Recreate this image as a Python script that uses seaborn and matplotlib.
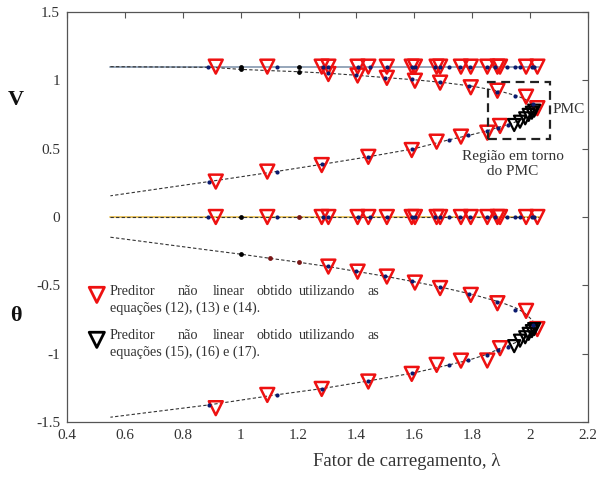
import numpy as np
import pandas as pd
import seaborn as sns
import matplotlib.pyplot as plt
from matplotlib.patches import Rectangle

# --- load-bus voltage curve (upper branch to nose, then lower branch) ---
curve_lam = [0.55, 0.90, 1.00, 1.10, 1.20, 1.30, 1.40, 1.50, 1.60, 1.70, 1.80, 1.90,
             1.95, 1.98, 2.00, 2.015, 2.02, 2.012, 1.995, 1.97, 1.94, 1.90, 1.85,
             1.79, 1.72, 1.60, 1.44, 1.28, 1.12, 0.89, 0.55]
curve_V = [1.100, 1.095, 1.080, 1.071, 1.063, 1.052, 1.037, 1.020, 1.004, 0.984,
           0.957, 0.918, 0.889, 0.865, 0.840, 0.815, 0.790, 0.765, 0.740, 0.712,
           0.688, 0.662, 0.630, 0.598, 0.565, 0.500, 0.440, 0.385, 0.332, 0.259, 0.155]
curve_th = [-0.148, -0.245, -0.272, -0.302, -0.331, -0.362, -0.398, -0.434, -0.474,
            -0.517, -0.566, -0.625, -0.665, -0.700, -0.740, -0.775, -0.805, -0.840,
            -0.870, -0.900, -0.928, -0.958, -1.005, -1.046, -1.082, -1.140, -1.200,
            -1.256, -1.302, -1.375, -1.465]

# --- generator bus (constant magnitude, reference angle) ---
gen_lam = [0.55, 2.03]
gen_V = [1.1, 1.1]
gen_th = [0.0, 0.0]

# --- nonlinear predictor, eqs (12)-(14) ---
pred_up_lam = [1.303, 1.404, 1.505, 1.602, 1.689, 1.795, 1.887, 1.986, 2.025]
pred_up_V = [1.046, 1.035, 1.018, 0.997, 0.983, 0.949, 0.924, 0.880, 0.796]
pred_up_th = [-0.363, -0.400, -0.436, -0.480, -0.520, -0.570, -0.631, -0.687, -0.820]
pred_lo_lam = [1.896, 1.852, 1.761, 1.677, 1.591, 1.441, 1.280, 1.092, 0.914]
pred_lo_V = [0.666, 0.617, 0.588, 0.551, 0.490, 0.440, 0.380, 0.332, 0.259]
pred_lo_th = [-0.960, -1.050, -1.051, -1.082, -1.148, -1.204, -1.258, -1.302, -1.399]

# --- nonlinear predictor, eqs (15)-(17) ---
pred2_lam = [1.945, 1.965, 1.983, 1.995, 2.006, 2.014]
pred2_V = [0.673, 0.697, 0.722, 0.747, 0.763, 0.778]
pred2_th = [-0.945, -0.905, -0.880, -0.855, -0.835, -0.820]

# --- corrected points ---
corr_up_lam = [1.300, 1.400, 1.500, 1.593, 1.689, 1.789, 1.885, 1.948, 2.010]
corr_up_V = [1.052, 1.037, 1.020, 1.008, 0.986, 0.959, 0.917, 0.888, 0.830]
corr_up_th = [-0.355, -0.393, -0.430, -0.472, -0.515, -0.565, -0.625, -0.680, -0.790]
corr_lo_lam = [1.925, 1.890, 1.850, 1.787, 1.721, 1.591, 1.441, 1.280, 1.125, 0.890]
corr_lo_V = [0.673, 0.652, 0.630, 0.598, 0.565, 0.495, 0.440, 0.385, 0.332, 0.259]
corr_lo_th = [-0.953, -0.975, -1.009, -1.046, -1.082, -1.140, -1.200, -1.256, -1.302, -1.375]
gen_corr_lam = [0.888, 1.125, 1.283, 1.303, 1.404, 1.447, 1.505, 1.591, 1.602, 1.672,
                1.689, 1.721, 1.758, 1.793, 1.850, 1.879, 1.919, 1.948, 1.965, 2.005, 2.012]

# --- initial continuation steps ---
init_lam = [1.0, 1.1, 1.2]
init_V = [1.080, 1.071, 1.063]
init_th = [-0.272, -0.302, -0.331]

xticks = [0.4, 0.6, 0.8, 1.0, 1.2, 1.4, 1.6, 1.8, 2.0, 2.2]
xticklabels = ["0.4", "0.6", "0.8", "1", "1.2", "1.4", "1.6", "1.8", "2", "2.2"]
yticks = [-1.5, -1.0, -0.5, 0.0, 0.5, 1.0, 1.5]
yticklabels = ["-1.5", "-1", "-0.5", "0", "0.5", "1", "1.5"]

sns.set_theme(style="white")
plt.rcParams["font.family"] = ["Liberation Serif", "DejaVu Serif"]

fig = plt.figure(figsize=(5.96, 4.83), dpi=100)
ax = fig.add_axes([0.1124, 0.1263, 0.8742, 0.8489])

RED = "#ee1111"
NAVY = "#0a1a6e"
DASH = "#333333"

# generator bus lines
sns.lineplot(x=gen_lam, y=gen_V, ax=ax, color="#8e9fb4", lw=1.3, sort=False, estimator=None)
sns.lineplot(x=gen_lam, y=gen_th, ax=ax, color="#e9c35a", lw=1.3, sort=False, estimator=None)
sns.lineplot(x=gen_lam, y=gen_th, ax=ax, color=DASH, lw=0.8, sort=False, estimator=None,
             dashes=False, linestyle=(0, (3, 2)))

# load bus curves
curves = pd.DataFrame({"lam": curve_lam, "V": curve_V, "th": curve_th})
sns.lineplot(data=curves, x="lam", y="V", ax=ax, color=DASH, lw=0.8, sort=False,
             estimator=None, linestyle=(0, (3, 2)))
sns.lineplot(data=curves, x="lam", y="th", ax=ax, color=DASH, lw=0.8, sort=False,
             estimator=None, linestyle=(0, (3, 2)))


def tri(xs, ys, color, size=100, lw=1.8):
    sns.scatterplot(x=xs, y=ys, ax=ax, marker="v", s=size, facecolor="none",
                    edgecolor=color, linewidth=lw, zorder=4, legend=False)


def dots(xs, ys, color, size=9):
    sns.scatterplot(x=xs, y=ys, ax=ax, marker="o", s=size, color=color,
                    edgecolor=color, linewidth=0, zorder=5, legend=False)


gen_pred_lam = pred_up_lam + pred_lo_lam
tri(gen_pred_lam, [gen_V[0]] * len(gen_pred_lam), RED)
tri(gen_pred_lam, [gen_th[0]] * len(gen_pred_lam), RED)
tri(pred_up_lam, pred_up_V, RED)
tri(pred_lo_lam, pred_lo_V, RED)
tri(pred_up_lam, pred_up_th, RED)
tri(pred_lo_lam, pred_lo_th, RED)
tri(pred2_lam, pred2_V, "black", size=75, lw=1.6)
tri(pred2_lam, pred2_th, "black", size=75, lw=1.6)

dots(gen_corr_lam, [gen_V[0]] * len(gen_corr_lam), NAVY)
dots(gen_corr_lam, [gen_th[0]] * len(gen_corr_lam), NAVY)
dots(corr_up_lam, corr_up_V, NAVY)
dots(corr_lo_lam, corr_lo_V, NAVY)
dots(corr_up_lam, corr_up_th, NAVY)
dots(corr_lo_lam, corr_lo_th, NAVY)

dots(init_lam[::2], init_V[::2], "black", 12)
dots(init_lam[::2], [gen_V[0]] * 2, "black", 12)
dots(init_lam[:1], [gen_th[0]], "black", 12)
dots(init_lam[2:], [gen_th[0]], "#7a1515", 12)
dots(init_lam[:1], init_th[:1], "black", 12)
dots(init_lam[1:], init_th[1:], "#7a1515", 12)

# region around the maximum loading point
ax.add_patch(Rectangle((1.854, 0.569), 0.213, 0.421, fill=False, ec="#222222",
                       lw=1.6, ls=(0, (4, 2.5)), zorder=6))
ax.text(2.079, 0.783, "PMC", fontsize=11, color="#333333", va="center", ha="left")
ax.text(1.941, 0.388, "Região em torno\ndo PMC", fontsize=11, color="#333333",
        ha="center", va="center", linespacing=1.25)

# legend entries
ax.scatter([0.503], [-0.570], marker="v", s=120, facecolor="none", edgecolor=RED,
           linewidth=2.0, zorder=6)
ax.scatter([0.503], [-0.899], marker="v", s=120, facecolor="none", edgecolor="black",
           linewidth=2.0, zorder=6)
words = [("Preditor", 0.5486, "left"), ("não", 0.7836, "left"), ("linear", 0.9045, "left"),
         ("obtido", 1.1775, "right"), ("utilizando", 1.2017, "left"), ("as", 1.4367, "left")]
for ytop, ybot, eq in [(-0.546, -0.665, "equações (12), (13) e (14)."),
                       (-0.870, -0.992, "equações (15), (16) e (17).")]:
    for w, xw, ha in words:
        ax.text(xw, ytop, w, fontsize=10.2, color="#333333", ha=ha, va="center")
    ax.text(0.5486, ybot, eq, fontsize=10.2, color="#333333", ha="left", va="center")

ax.set_xlim(0.4, 2.2)
ax.set_ylim(-1.5, 1.5)
ax.set_xticks(xticks)
ax.set_xticklabels(xticklabels)
ax.set_yticks(yticks)
ax.set_yticklabels(yticklabels)
ax.tick_params(direction="in", top=True, right=True, length=4, width=0.8,
               color="#555555", labelsize=11, labelcolor="#333333", pad=5)
for sp in ax.spines.values():
    sp.set_color("#555555")
    sp.set_linewidth(0.9)
ax.set_xlabel("")
ax.set_ylabel("")

fig.text(16 / 596, 1 - 100 / 483, "V", fontsize=16, fontweight="bold", ha="center",
         va="center", color="#111111")
fig.text(16 / 596, 1 - 316 / 483, "θ", fontsize=16, fontweight="bold", ha="center",
         va="center", color="#111111")
fig.text(407 / 596, 1 - 462 / 483, "Fator de carregamento, λ", fontsize=13.5,
         ha="center", va="center", color="#333333")

fig.savefig("out.png", dpi=100)
